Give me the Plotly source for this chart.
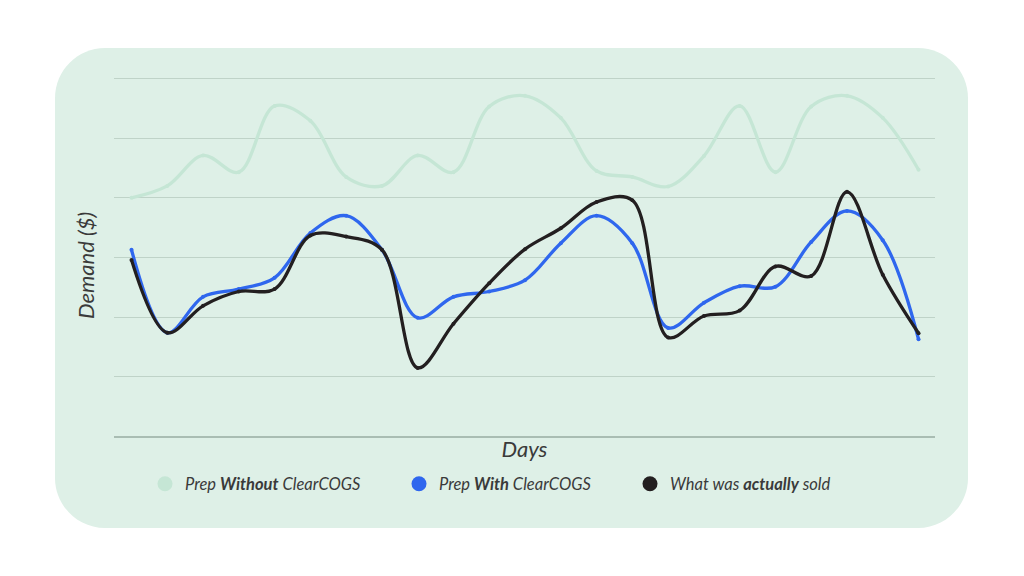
import plotly.graph_objects as go

days = list(range(23))
prep_without = [40.0, 42.0, 47.1, 44.3, 55.4, 52.9, 43.5, 42.0, 47.1, 44.3, 55.3, 57.1,
                53.4, 44.5, 43.5, 41.9, 47.0, 55.4, 44.3, 55.3, 57.1, 53.4, 44.7]
prep_with = [31.3, 17.4, 23.4, 24.7, 26.6, 34.1, 37.0, 31.3, 19.9, 23.4, 24.3, 26.2,
             32.4, 37.0, 32.4, 18.2, 22.4, 25.2, 25.1, 32.6, 37.8, 32.9, 16.3]
actual = [29.6, 17.4, 21.9, 24.3, 24.7, 33.7, 33.5, 31.3, 11.5, 18.9, 25.7, 31.4,
          34.9, 39.3, 39.6, 16.6, 20.2, 21.1, 28.5, 26.9, 41.0, 27.1, 17.3]

names = ["Prep <b>Without</b> ClearCOGS", "Prep <b>With</b> ClearCOGS", "What was <b>actually</b> sold"]
colors = ["#C5E6D5", "#2F67EE", "#231F20"]
series = [prep_without, prep_with, actual]
legend_ids = ["legend", "legend2", "legend3"]
legend_x = [145, 399, 630]

W, H = 1024, 576
PANEL = "#DEF0E7"
FONT = "Lato"
TEXT = "#3A3A3A"

fig = go.Figure()
for vals, col, name, lid in zip(series, colors, names, legend_ids):
    fig.add_trace(go.Scatter(x=days, y=vals, mode="lines+markers", name=name,
                             line=dict(color=col, width=3.3, shape="spline", smoothing=1.0),
                             marker=dict(color=col, size=4), showlegend=False, legendgroup=lid))
    fig.add_trace(go.Scatter(x=[None], y=[None], mode="markers", name=name, legend=lid, legendgroup=lid,
                             marker=dict(color=col, size=15), showlegend=True))

def legend_cfg(px):
    return dict(x=px / W, y=1 - 484 / H, xanchor="left", yanchor="middle", bgcolor="rgba(0,0,0,0)",
                font=dict(family=FONT, size=16.5, color=TEXT, style="italic"), itemsizing="trace",
                itemclick=False, itemdoubleclick=False)

# Panel with circular corners
r = 50
k = r * 0.45
def px(v): return v / W
def py(v): return 1 - v / H
L, R, T, B = 55, 968, 48, 528
panel_path = (
    f"M {px(L+r)} {py(T)} L {px(R-r)} {py(T)} C {px(R-k)} {py(T)} {px(R)} {py(T+k)} {px(R)} {py(T+r)} "
    f"L {px(R)} {py(B-r)} C {px(R)} {py(B-k)} {px(R-k)} {py(B)} {px(R-r)} {py(B)} "
    f"L {px(L+r)} {py(B)} C {px(L+k)} {py(B)} {px(L)} {py(B-k)} {px(L)} {py(B-r)} "
    f"L {px(L)} {py(T+r)} C {px(L)} {py(T+k)} {px(L+k)} {py(T)} {px(L+r)} {py(T)} Z"
)

fig.update_layout(
    width=W, height=H, autosize=False, margin=dict(l=0, r=0, t=0, b=0),
    paper_bgcolor="white", plot_bgcolor="rgba(0,0,0,0)",
    xaxis=dict(domain=[114 / W, 935 / W], range=[-0.489, 22.46], showgrid=False, zeroline=False,
               showticklabels=False, ticks="", showline=False,
               title=dict(text="Days", standoff=5, font=dict(family=FONT, size=22, color=TEXT, style="italic"))),
    yaxis=dict(domain=[1 - 436.5 / H, 1 - 75.5 / H], range=[0, 60.5], tick0=0, dtick=10, showgrid=True,
               gridcolor="#BFD3C8", gridwidth=1, zeroline=True, zerolinecolor="#A9BDB3", zerolinewidth=1.5,
               showticklabels=False, ticks="", showline=False),
    shapes=[dict(type="path", xref="paper", yref="paper", layer="below", line=dict(width=0),
                 fillcolor=PANEL, path=panel_path)],
    annotations=[dict(text="Demand ($)", xref="paper", yref="paper", x=85 / W, y=1 - 266 / H, showarrow=False,
                      xanchor="center", yanchor="middle", textangle=-90,
                      font=dict(family=FONT, size=22, color=TEXT, style="italic"))],
    legend=legend_cfg(legend_x[0]), legend2=legend_cfg(legend_x[1]), legend3=legend_cfg(legend_x[2]),
)

fig.write_html("out.html", config={"displayModeBar": False},
               post_script="document.body.style.margin='0';document.documentElement.style.overflow='hidden';")
